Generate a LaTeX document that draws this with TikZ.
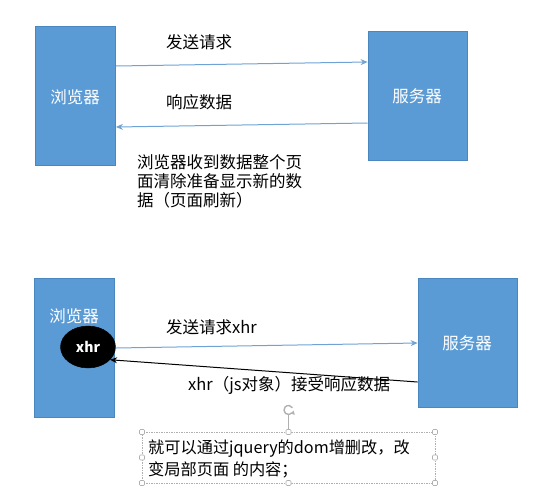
\documentclass[tikz,border=0pt]{standalone}
\usepackage{fontspec}
\setmainfont{Noto Sans CJK SC}
\usetikzlibrary{arrows.meta,shapes.geometric}
\definecolor{boxblue}{HTML}{5B9BD5}
\definecolor{boxedge}{HTML}{4A86C0}
\definecolor{arrowblue}{HTML}{6FA3D6}
\definecolor{handlegray}{HTML}{B0B0B0}
\tikzset{
  blockbox/.style={draw=boxedge, line width=0.8pt, fill=boxblue, inner sep=0pt},
  boxlabel/.style={text=white, font=\fontsize{16.5}{19}\selectfont, inner sep=0pt},
  lbl/.style={font=\fontsize{16.5}{19}\selectfont, inner sep=0pt, anchor=west},
  bluearrow/.style={draw=arrowblue, line width=1pt, -{Stealth[length=7pt,width=6pt]}},
  blackarrow/.style={draw=black, line width=1pt, -{Stealth[length=7pt,width=6pt]}},
  handle/.style={draw=handlegray, fill=white, rounded corners=1pt, minimum size=5pt, inner sep=0pt, line width=0.6pt},
}
\begin{document}
\begin{tikzpicture}[x=1pt,y=-1pt]
\useasboundingbox (0,0) rectangle (548,496);
% ---------- top diagram ----------
\node[blockbox, minimum width=80pt, minimum height=139pt] (b1) at (75.5,96) {};
\node[boxlabel] (b1t) at (75,97) {浏览器};
\node[blockbox, minimum width=99pt, minimum height=129pt] (s1) at (417.5,95.5) {};
\node[boxlabel] (s1t) at (417,96) {服务器};
\draw[bluearrow] (b1.east |- 0,66) -- (s1.west |- 0,62);
\draw[bluearrow] (s1.west |- 0,123) -- (b1.east |- 0,127);
\node[lbl] (l1) at (166,42) {发送请求};
\node[lbl] (l2) at (166,102) {响应数据};
\node[lbl] (l3) at (137,162) {浏览器收到数据整个页};
\node[lbl] (l4) at (137,181) {面清除准备显示新的数};
\node[lbl] (l5) at (137,200) {据（页面刷新）};
% ---------- bottom diagram ----------
\node[blockbox, minimum width=80pt, minimum height=139pt] (b2) at (74,347.5) {};
\node[boxlabel] (b2t) at (74,316) {浏览器};
\node[blockbox, minimum width=99pt, minimum height=129pt] (s2) at (467.5,342.5) {};
\node[boxlabel] (s2t) at (467,343) {服务器};
\node[ellipse, draw=black, fill=black, minimum width=55pt, minimum height=42pt, inner sep=0pt,
      text=white, font=\fontsize{14}{16}\selectfont\bfseries] (x) at (88,347) {xhr};
\draw[bluearrow] (x.east |- 0,348) -- (s2.west |- 0,343);
\draw[blackarrow] (s2.west |- 0,382) -- (x.-30);
\node[lbl] (l6) at (166,327) {发送请求xhr};
\node[lbl] (l7) at (188,385) {xhr（js对象）接受响应数据};
% ---------- selected text box ----------
\draw[handlegray, dashed, line width=0.6pt, dash pattern=on 1.5pt off 1pt] (142,432) rectangle (435,483);
\coordinate (rot) at (288.5,410);
\draw[handlegray, line width=1pt] (rot) ++(0,4.5) -- (288.5,432);
\draw[handlegray, line width=1.4pt] ([shift={(40:4.5)}]rot) arc[start angle=40, end angle=330, radius=4.5];
\draw[handlegray, fill=handlegray] ([shift={(50:4.5)}]rot) -- ++(3,1) -- ++(-1,-3.5) -- cycle;
\foreach \hx/\hy in {142/432, 288.5/432, 435/432, 142/457.5, 435/457.5, 142/483, 288.5/483, 435/483}
  \node[handle] at (\hx,\hy) {};
\node[lbl, font=\fontsize{16.2}{18}\selectfont] (t1) at (148,449) {就可以通过jquery的dom增删改，改};
\node[lbl, font=\fontsize{16.2}{18}\selectfont] (t2) at (148,470) {变局部页面 的内容；};
\end{tikzpicture}
\end{document}
